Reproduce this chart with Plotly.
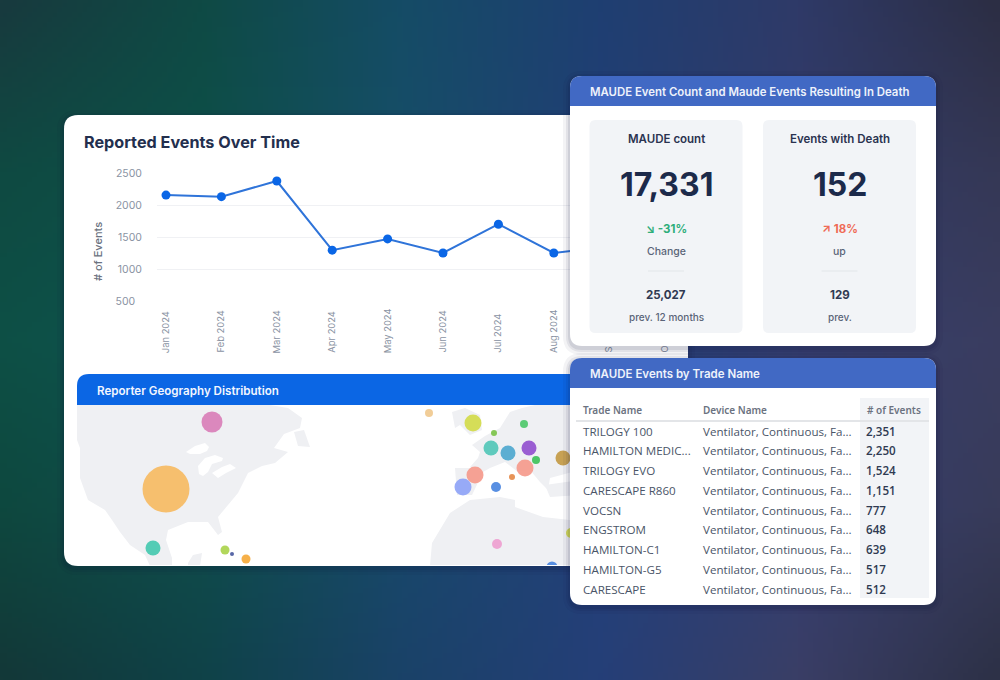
import base64, struct, zlib
import numpy as np
import plotly.graph_objects as go

# ---------- data ----------
months = ["Jan 2024", "Feb 2024", "Mar 2024", "Apr 2024", "May 2024",
          "Jun 2024", "Jul 2024", "Aug 2024", "Sep 2024", "Oct 2024"]
events = [2155, 2130, 2375, 1295, 1470, 1250, 1700, 1250, 1350, 1300]
y_ticks = [500, 1000, 1500, 2000, 2500]
month_pad = [3, 2, 2, 3, 0, 2, 6, 1, 1, 3]   # hair spaces that bottom-align the rotated labels

bubble_x = [212, 166, 153, 225, 232, 246, 429, 473, 524, 494, 491, 508, 529, 536, 563, 525, 475, 463, 512, 496, 497, 552, 571]
bubble_y = [422, 489, 548, 550, 554, 559, 413, 423, 424, 433, 448, 453, 448, 460, 458, 468, 475, 487, 477, 487, 544, 567, 533]
bubble_d = [21, 47, 15, 9, 4, 9, 8, 17, 8, 6, 15, 15, 15, 8, 15, 17, 17, 17, 6, 10, 10, 11, 10]
bubble_c = ["#d97fb8", "#f6bb63", "#45c9b0", "#abd44d", "#4a5aa0", "#f5a93a", "#f0c98f", "#d3db4b",
            "#4fc86b", "#7cc34a", "#52c7b8", "#4fa8cf", "#9251cf", "#3ec25a", "#c39a45", "#f59a8c",
            "#f59a8c", "#8fa4f7", "#e58a4a", "#4a86e0", "#ee9fd0", "#4a86e0", "#d3db4b"]

land = [
    [(77,405),(77,440),(80,448),(80,478),(88,500),(105,510),(112,520),(120,532),(130,545),(145,555),(150,566),(172,566),(172,558),(166,540),(168,530),(188,522),(208,522),(218,535),(222,532),(218,517),(238,493),(248,473),(262,466),(275,463),(288,452),(274,448),(284,434),(300,428),(302,418),(288,408),(270,405)],
    [(294,432),(304,430),(310,447),(298,446)],
    [(188,563),(193,555),(202,553),(200,566),(188,566)],
    [(430,566),(432,543),(450,513),(470,500),(500,497),(515,500),(515,507),(543,517),(570,520),(580,566)],
    [(455,468),(472,468),(483,472),(472,495),(457,495)],
    [(472,445),(485,436),(500,428),(510,412),(522,408),(535,405),(580,405),(580,470),(550,478),(548,490),(540,482),(530,470),(518,472),(505,462),(490,468),(483,472),(470,467),(478,458),(480,452)],
    [(452,412),(465,408),(480,415),(482,430),(470,435),(460,425),(455,428)],
    [(545,485),(580,480),(580,495),(550,497)],
]
lakes = [
    [(186,452),(190,449),(195,446),(205,443),(209,447),(207,451),(200,454),(190,454)],
    [(198,466),(205,458),(215,455),(223,458),(222,461),(212,464),(208,472),(203,476),(199,474)],
    [(212,473),(222,467),(230,464),(236,468),(226,473),(218,478)],
]

kpi_titles = ["MAUDE count", "Events with Death"]
kpi_values = ["17,331", "152"]
kpi_change = ["↘ -31%", "↗ 18%"]
kpi_change_label = ["Change", "up"]
kpi_prev = ["25,027", "129"]
kpi_prev_label = ["prev. 12 months", "prev."]

trade_names = ["TRILOGY 100", "HAMILTON MEDIC...", "TRILOGY EVO", "CARESCAPE R860", "VOCSN",
               "ENGSTROM", "HAMILTON-C1", "HAMILTON-G5", "CARESCAPE"]
device_names = ["Ventilator, Continuous, Fa..."] * 9
event_counts = ["2,351", "2,250", "1,524", "1,151", "777", "648", "639", "517", "512"]

# ---------- helpers ----------
W, H = 1000, 680
def px(x): return x / W
def py(y): return 1 - y / H

def rr(x0, y0, x1, y1, tl=0, tr=0, br=0, bl=0):
    p = lambda x, y: f"{px(x):.5f},{py(y):.5f}"
    return (f"M{p(x0+tl,y0)} L{p(x1-tr,y0)} Q{p(x1,y0)} {p(x1,y0+tr)} "
            f"L{p(x1,y1-br)} Q{p(x1,y1)} {p(x1-br,y1)} "
            f"L{p(x0+bl,y1)} Q{p(x0,y1)} {p(x0,y1-bl)} "
            f"L{p(x0,y0+tl)} Q{p(x0,y0)} {p(x0+tl,y0)} Z")

shapes, annots = [], []
def box(x0, y0, x1, y1, fill, r=(0, 0, 0, 0), layer="above"):
    shapes.append(dict(type="path", path=rr(x0, y0, x1, y1, *r), xref="paper", yref="paper",
                       fillcolor=fill, line=dict(width=0), layer=layer))
def shadow(x0, y0, x1, y1, r, layer="above"):
    for g, a in ((7, .05), (4, .07), (2, .09)):
        box(x0 - g, y0 - g + 2, x1 + g, y1 + g + 2, f"rgba(10,20,50,{a})", (r + g,) * 4, layer)
def text(x, y, s, size, color, weight=400, anchor="center", fam="Inter", angle=0):
    dx = -2 if anchor == "left" else 0
    annots.append(dict(x=px(x + dx), y=py(y), xref="paper", yref="paper", text=s, showarrow=False,
                       xanchor=anchor, yanchor="middle", align=anchor, textangle=angle,
                       font=dict(family=fam, size=size, color=color, weight=weight)))

# ---------- background ----------
hexes = [
    ["183a3e", "0f4a45", "154c66", "1f3f72", "2f3a68", "2c2e44"],
    ["0f4a42", "0d5048", "164e68", "213f76", "323b6a", "353856"],
    ["0d5046", "0e5450", "17506e", "23417a", "353e6e", "3a3d60"],
    ["0e483f", "0f4e4c", "18496c", "24407a", "343e72", "383b5a"],
    ["133838", "0f4248", "1a4268", "253f78", "3a3e66", "2d3147"],
]
grid = np.array([[[int(h[i:i + 2], 16) for i in (0, 2, 4)] for h in row] for row in hexes], dtype=float)
iw, ih = 200, 136
gy = np.linspace(0, grid.shape[0] - 1, ih); gx = np.linspace(0, grid.shape[1] - 1, iw)
y0 = np.clip(gy.astype(int), 0, grid.shape[0] - 2); x0 = np.clip(gx.astype(int), 0, grid.shape[1] - 2)
fy = (gy - y0)[:, None, None]; fx = (gx - x0)[None, :, None]
img = (grid[y0][:, x0] * (1 - fx) * (1 - fy) + grid[y0][:, x0 + 1] * fx * (1 - fy)
       + grid[y0 + 1][:, x0] * (1 - fx) * fy + grid[y0 + 1][:, x0 + 1] * fx * fy).astype(np.uint8)
def chunk(t, d):
    return struct.pack(">I", len(d)) + t + d + struct.pack(">I", zlib.crc32(t + d))
raw = b"".join(b"\x00" + img[r].tobytes() for r in range(ih))
png = b"\x89PNG\r\n\x1a\n" + chunk(b"IHDR", struct.pack(">IIBBBBB", iw, ih, 8, 2, 0, 0, 0)) + \
      chunk(b"IDAT", zlib.compress(raw)) + chunk(b"IEND", b"")
bg = "data:image/png;base64," + base64.b64encode(png).decode()

# ---------- left big card ----------
shadow(64, 115, 688, 566, 14, "below")
box(64, 115, 688, 566, "#ffffff", (14, 14, 14, 14), "below")
box(77, 374, 688, 405, "#0b66e4", (12, 0, 0, 0), "below")
text(84, 142, "Reported Events Over Time", 16.2, "#232f4e", 700, "left")
text(97, 391, "Reporter Geography Distribution", 11.6, "#f2f6ff", 600, "left")
text(98, 252, "# of Events", 11, "#6b7280", 500, angle=-90)

# ---------- right KPI card ----------
shadow(570, 76, 936, 346, 12)
box(570, 76, 936, 346, "#ffffff", (12, 12, 12, 12))
box(570, 76, 936, 106, "#4169c4", (12, 12, 0, 0))
text(590, 92, "MAUDE Event Count and Maude Events Resulting In Death", 11.4, "#eef2fb", 600, "left")
for i, cx in enumerate((666, 839.5)):
    box(cx - 76.5, 120, cx + 76.5, 333, "#f2f4f7", (6, 6, 6, 6))
    text(cx, 139, kpi_titles[i], 11.5, "#2a3350", 600)
    text(cx, 185, kpi_values[i], 32, "#1c2a4a", 700)
    text(cx, 229, kpi_change[i], 11.5, ["#2fae7a", "#ef6a55"][i], 700)
    text(cx, 251, kpi_change_label[i], 10.5, "#5a6478", 500)
    box(cx - 18, 270.5, cx + 18, 271.5, "#e2e5ea")
    text(cx, 295, kpi_prev[i], 11.5, "#303a52", 700)
    text(cx, 317, kpi_prev_label[i], 10, "#5a6478", 500)

# ---------- right table card ----------
shadow(570, 358, 936, 605, 12)
box(570, 358, 936, 605, "#ffffff", (12, 12, 12, 12))
box(570, 358, 936, 388, "#4169c4", (12, 12, 0, 0))
text(590, 374, "MAUDE Events by Trade Name", 11.5, "#eef2fb", 600, "left")
box(860, 398, 929, 598, "#f2f4f7")
box(576, 420, 929, 422, "#e3e5e8")
for lbl, x in (("Trade Name", 583), ("Device Name", 703), ("# of Events", 867)):
    text(x, 410, lbl, 10, "#6b7280", 600, "left", "Noto Sans")
rows_y = [431, 450.5, 470.5, 490, 510, 529.5, 549.5, 569, 589]
for ry, a, b, c in zip(rows_y, trade_names, device_names, event_counts):
    text(583, ry, a, 11.6, "#4a5568", 400, "left", "Open Sans")
    text(703, ry, b, 11.6, "#4a5568", 400, "left", "Open Sans")
    text(866, ry, c, 11.6, "#2f3a52", 600, "left", "Open Sans")

# ---------- traces ----------
fig = go.Figure()
fig.add_trace(go.Scatter(x=months, y=events, mode="lines+markers", xaxis="x", yaxis="y",
                         line=dict(color="#2f74d9", width=2), marker=dict(color="#0a66e6", size=9),
                         showlegend=False))
for poly in land:
    fig.add_trace(go.Scatter(x=[p[0] for p in poly], y=[p[1] for p in poly], mode="lines", fill="toself",
                             fillcolor="#eff0f3", line=dict(width=0), xaxis="x2", yaxis="y2",
                             hoverinfo="skip", showlegend=False))
for poly in lakes:
    fig.add_trace(go.Scatter(x=[p[0] for p in poly], y=[p[1] for p in poly], mode="lines", fill="toself",
                             fillcolor="#ffffff", line=dict(width=0), xaxis="x2", yaxis="y2",
                             hoverinfo="skip", showlegend=False))
fig.add_trace(go.Scatter(x=bubble_x, y=bubble_y, mode="markers", xaxis="x2", yaxis="y2", showlegend=False,
                         marker=dict(size=bubble_d, color=bubble_c, opacity=.92, line=dict(width=0))))

cats0, step = 166, 55.4
fig.update_layout(
    template="none",
    width=W, height=H, margin=dict(l=0, r=0, t=0, b=0, pad=0),
    paper_bgcolor="#1f3a6b", plot_bgcolor="rgba(0,0,0,0)",
    images=[dict(source=bg, xref="paper", yref="paper", x=0, y=1, sizex=1, sizey=1,
                 sizing="stretch", xanchor="left", yanchor="top", layer="below")],
    shapes=shapes, annotations=annots,
    font=dict(family="Inter"),
    xaxis=dict(domain=[px(157), px(680)], type="category", categoryorder="array", categoryarray=months,
               range=[(157 - cats0) / step, (680 - cats0) / step], anchor="y", showgrid=False, zeroline=False,
               showline=False, ticks="", tickangle=-90, ticklabelstandoff=4, automargin=False,
               tickmode="array", tickvals=months,
               ticktext=[m + "\u200a" * n for m, n in zip(months, month_pad)],
               tickfont=dict(size=9.4, color="#8a93a3", family="Inter")),
    yaxis=dict(domain=[py(301.65), py(173)], range=[490, 2500], anchor="x", tickmode="array", tickvals=y_ticks,
               ticktext=[f"{v}\u2007" if v < 1000 else str(v) for v in y_ticks], gridcolor="#f0f1f4", gridwidth=1,
               zeroline=False, showline=False, ticks="", ticklabelstandoff=14, automargin=False,
               tickfont=dict(size=10.5, color="#8a93a3", family="Inter")),
    xaxis2=dict(domain=[px(77), px(688)], range=[77, 688], anchor="y2", visible=False, automargin=False),
    yaxis2=dict(domain=[py(565), py(405)], range=[565, 405], anchor="x2", visible=False, automargin=False),
)

fig.write_html("out.html", config=dict(displayModeBar=False),
               post_script="document.body.style.margin='0';document.body.style.overflow='hidden';")
